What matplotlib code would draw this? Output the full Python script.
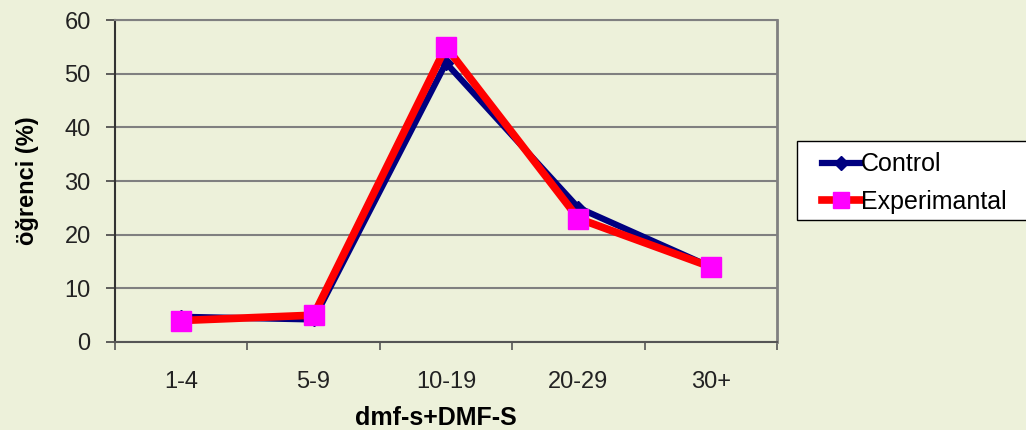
import matplotlib.pyplot as plt
from matplotlib.patches import Rectangle

categories = ["1-4", "5-9", "10-19", "20-29", "30+"]
control = [4.7, 4.2, 52, 25, 14]
experimental = [4, 5, 55, 23, 14]
y_ticks = [0, 10, 20, 30, 40, 50, 60]

plt.rcParams["font.family"] = ["Liberation Sans", "DejaVu Sans"]

W, H = 1026, 430
bg = "#edf1da"
fig = plt.figure(figsize=(W / 100, H / 100), dpi=100, facecolor=bg)
ax = fig.add_axes([115 / W, 88 / H, 662 / W, 322 / H])
ax.set_facecolor(bg)

x = list(range(len(categories)))
ax.plot(x, control, color="#000080", lw=4.5, marker="D", markersize=7,
        markerfacecolor="#000080", markeredgecolor="#000080", label="Control",
        zorder=3)
ax.plot(x, experimental, color="#ff0000", lw=5.5, marker="s", markersize=14,
        markerfacecolor="#ff00ff", markeredgecolor="#ff00ff", label="Experimantal",
        zorder=4)

ax.set_ylim(0, 60)
ax.set_yticks(y_ticks)
ax.set_xlim(-0.5, len(categories) - 0.5)
ax.set_xticks([i - 0.5 for i in range(len(categories) + 1)])
ax.set_xticklabels([])
ax.set_xticks(x, minor=True)
ax.set_xticklabels(categories, minor=True)

ax.grid(axis="y", color="#808080", lw=1.5)
ax.set_axisbelow(True)

ax.tick_params(axis="y", direction="out", length=6.5, width=1.2, color="#444444",
               labelsize=17, pad=11, labelcolor="#222222")
ax.tick_params(axis="x", which="major", direction="out", length=6, width=1.2,
               color="#555555")
ax.tick_params(axis="x", which="minor", length=0, labelsize=17, pad=21,
               labelcolor="#222222")

ax.spines["left"].set_color("#333333")
ax.spines["left"].set_linewidth(1.5)
ax.spines["bottom"].set_color("#555555")
ax.spines["bottom"].set_linewidth(1.5)
ax.spines["right"].set_color("#808080")
ax.spines["right"].set_linewidth(2)
ax.spines["top"].set_color("#808080")
ax.spines["top"].set_linewidth(1.5)

ax.set_ylabel("öğrenci (%)", fontsize=17, fontweight="bold", labelpad=18)
ax.set_xlabel("dmf-s+DMF-S", fontsize=18, fontweight="bold", labelpad=9)
ax.xaxis.label.set_x(0.485)

# legend box runs off the right edge like in the original
fig.patches.append(Rectangle((797 / W, (H - 220) / H), 240 / W, 79 / H,
                             transform=fig.transFigure, facecolor="white",
                             edgecolor="black", lw=1, zorder=5))
leg = fig.legend(loc="upper left", bbox_to_anchor=(811 / W, 1 - 141 / H),
                 fontsize=18, frameon=False, handlelength=1.5,
                 handletextpad=0.05, borderpad=0.45, labelspacing=0.55,
                 borderaxespad=0)
leg.set_zorder(6)
for h in leg.legend_handles:
    h.set_markersize(7 if h.get_label() == "Control" else 11)

fig.savefig("out.png", dpi=100, facecolor=bg)
